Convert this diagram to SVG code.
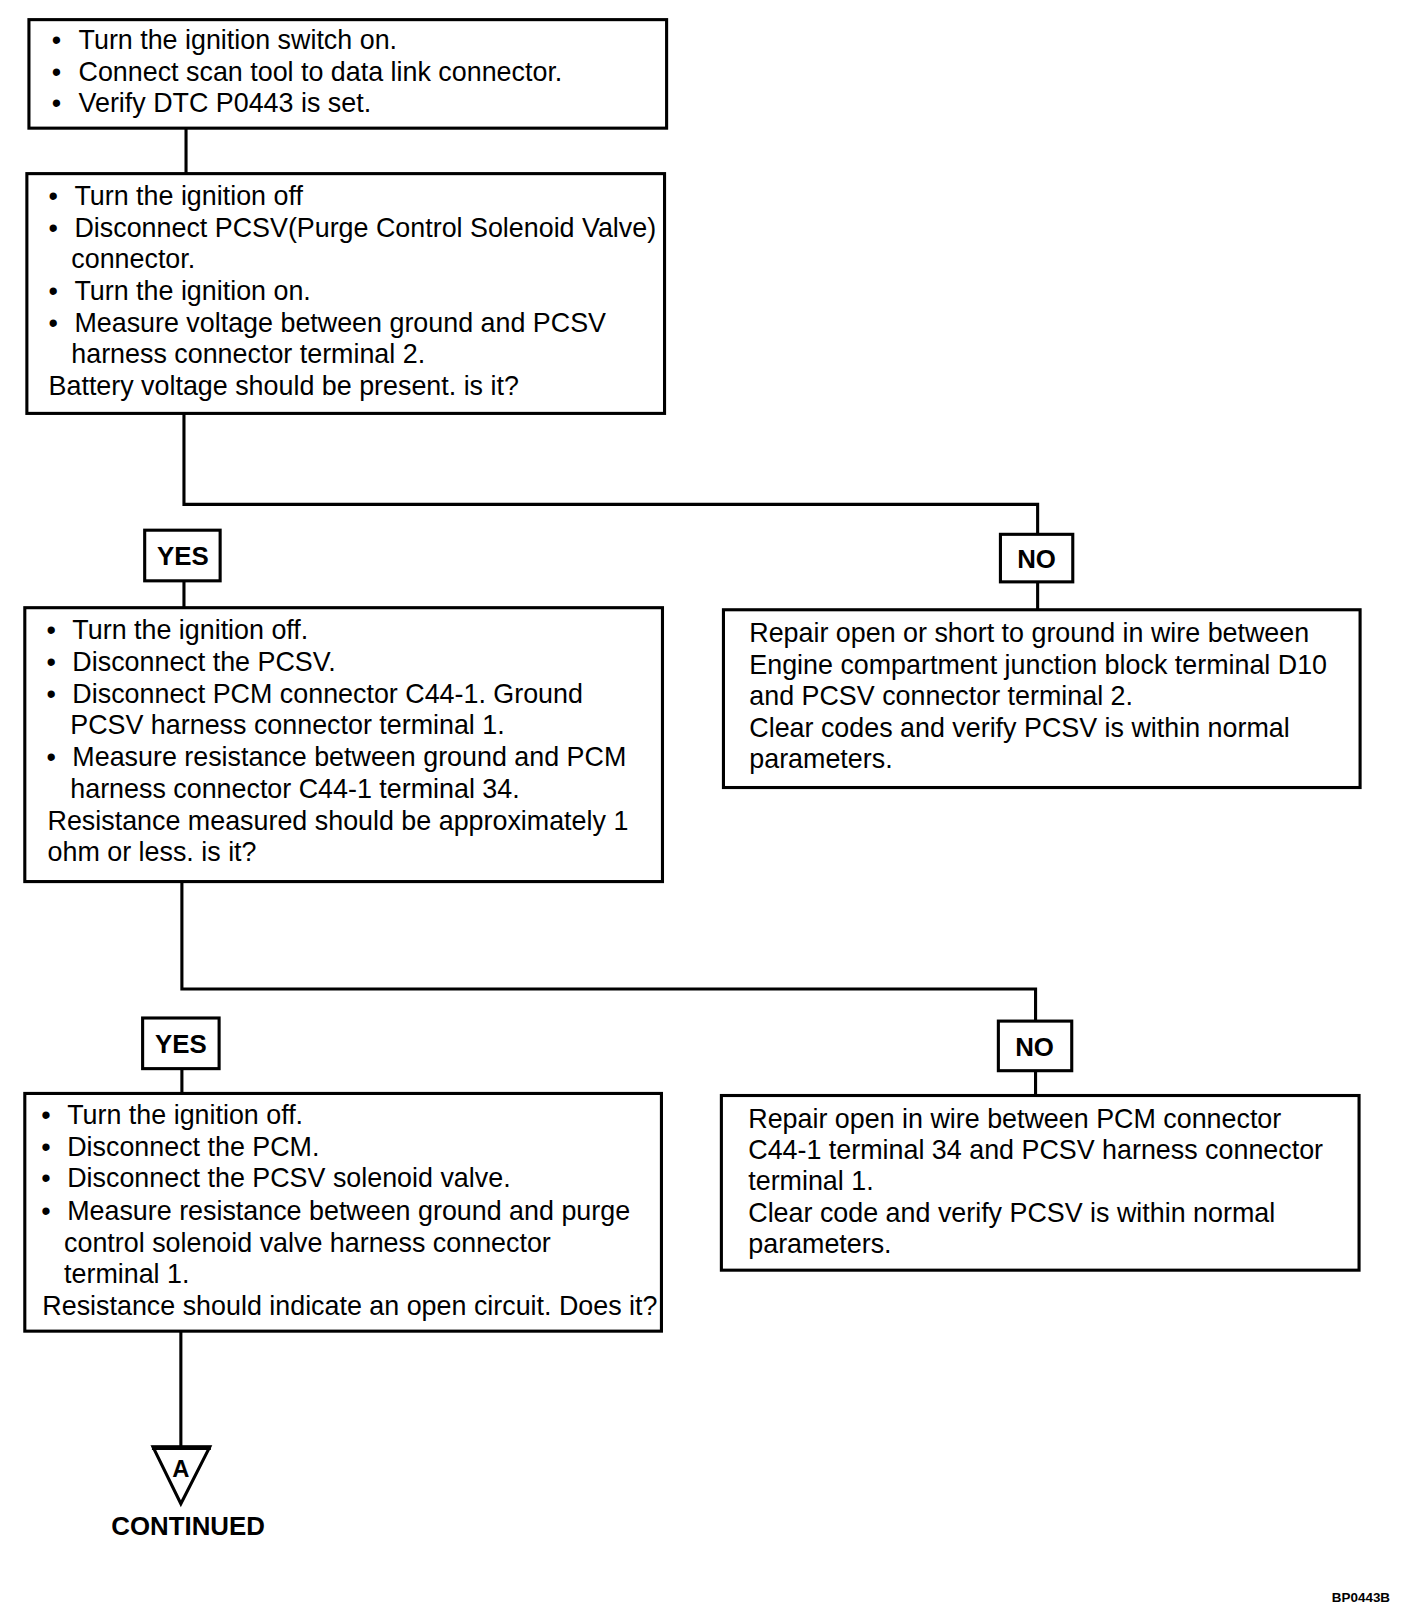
<svg xmlns="http://www.w3.org/2000/svg" width="1408" height="1620" viewBox="0 0 1408 1620">
<style>
.box{fill:#fff;stroke:#000;stroke-width:3}
.ln{fill:none;stroke:#000;stroke-width:3}
text{font-family:"Liberation Sans",Arial,sans-serif;fill:#000}
.t{font-size:26px}
.b{font-size:25px;font-weight:bold}
</style>
<rect width="1408" height="1620" fill="#fff"/>
<g id="diagram" transform="scale(1.0335)">
<g id="connectors">
<path class="ln" d="M180 124V168"/>
<path class="ln" d="M178 400V488H1004V517"/>
<path class="ln" d="M178 562V588"/>
<path class="ln" d="M1004 563V590"/>
<path class="ln" d="M176 853V957H1002V988"/>
<path class="ln" d="M176 1034V1058"/>
<path class="ln" d="M1002 1036V1060"/>
<path class="ln" d="M175 1288V1400"/>
</g>
<g id="n1">
<rect class="box" x="28" y="19" width="617" height="105"/>
<g class="t">
<text x="50" y="47">•</text><text x="76" y="47">Turn the ignition switch on.</text>
<text x="50" y="78">•</text><text x="76" y="78">Connect scan tool to data link connector.</text>
<text x="50" y="108">•</text><text x="76" y="108">Verify DTC P0443 is set.</text>
</g>
</g>
<g id="n2">
<rect class="box" x="26" y="168" width="617" height="232"/>
<g class="t">
<text x="47" y="198">•</text><text x="72" y="198">Turn the ignition off</text>
<text x="47" y="229">•</text><text x="72" y="229">Disconnect PCSV(Purge Control Solenoid Valve)</text>
<text x="69" y="259">connector.</text>
<text x="47" y="290">•</text><text x="72" y="290">Turn the ignition on.</text>
<text x="47" y="321">•</text><text x="72" y="321">Measure voltage between ground and PCSV</text>
<text x="69" y="351">harness connector terminal 2.</text>
<text x="47" y="382">Battery voltage should be present. is it?</text>
</g>
</g>
<g id="yes1">
<rect class="box" x="140" y="513" width="73" height="49"/>
<text class="b" x="177" y="547" text-anchor="middle">YES</text>
</g>
<g id="no1">
<rect class="box" x="968" y="517" width="70" height="46"/>
<text class="b" x="1003" y="550" text-anchor="middle">NO</text>
</g>
<g id="n3">
<rect class="box" x="24" y="588" width="617" height="265"/>
<g class="t">
<text x="45" y="618">•</text><text x="70" y="618">Turn the ignition off.</text>
<text x="45" y="649">•</text><text x="70" y="649">Disconnect the PCSV.</text>
<text x="45" y="680">•</text><text x="70" y="680">Disconnect PCM connector C44-1. Ground</text>
<text x="68" y="710">PCSV harness connector terminal 1.</text>
<text x="45" y="741">•</text><text x="70" y="741">Measure resistance between ground and PCM</text>
<text x="68" y="772">harness connector C44-1 terminal 34.</text>
<text x="46" y="803">Resistance measured should be approximately 1</text>
<text x="46" y="833">ohm or less. is it?</text>
</g>
</g>
<g id="n4">
<rect class="box" x="700" y="590" width="616" height="172"/>
<g class="t">
<text x="725" y="621">Repair open or short to ground in wire between</text>
<text x="725" y="652">Engine compartment junction block terminal D10</text>
<text x="725" y="682">and PCSV connector terminal 2.</text>
<text x="725" y="713">Clear codes and verify PCSV is within normal</text>
<text x="725" y="743">parameters.</text>
</g>
</g>
<g id="yes2">
<rect class="box" x="138" y="985" width="74" height="49"/>
<text class="b" x="175" y="1019" text-anchor="middle">YES</text>
</g>
<g id="no2">
<rect class="box" x="966" y="988" width="71" height="48"/>
<text class="b" x="1001" y="1022" text-anchor="middle">NO</text>
</g>
<g id="n5">
<rect class="box" x="24" y="1058" width="616" height="230"/>
<g class="t">
<text x="40" y="1088">•</text><text x="65" y="1088">Turn the ignition off.</text>
<text x="40" y="1119">•</text><text x="65" y="1119">Disconnect the PCM.</text>
<text x="40" y="1149">•</text><text x="65" y="1149">Disconnect the PCSV solenoid valve.</text>
<text x="40" y="1180">•</text><text x="65" y="1180">Measure resistance between ground and purge</text>
<text x="62" y="1211">control solenoid valve harness connector</text>
<text x="62" y="1241">terminal 1.</text>
<text x="41" y="1272">Resistance should indicate an open circuit. Does it?</text>
</g>
</g>
<g id="n6">
<rect class="box" x="698" y="1060" width="617" height="169"/>
<g class="t">
<text x="724" y="1091">Repair open in wire between PCM connector</text>
<text x="724" y="1121">C44-1 terminal 34 and PCSV harness connector</text>
<text x="724" y="1151">terminal 1.</text>
<text x="724" y="1182">Clear code and verify PCSV is within normal</text>
<text x="724" y="1212">parameters.</text>
</g>
</g>
<g id="contA">
<path d="M148 1400H203L175 1455Z" fill="#fff" stroke="#000" stroke-width="3" stroke-linejoin="miter"/>
<path class="ln" d="M147 1401H204" style="stroke-width:4"/>
<text x="175" y="1429" text-anchor="middle" style="font-size:23px;font-weight:bold">A</text>
<text class="b" x="182" y="1485" text-anchor="middle">CONTINUED</text>
</g>
<text x="1345" y="1550" text-anchor="end" style="font-size:13px;font-weight:bold">BP0443B</text>
</g>
</svg>
